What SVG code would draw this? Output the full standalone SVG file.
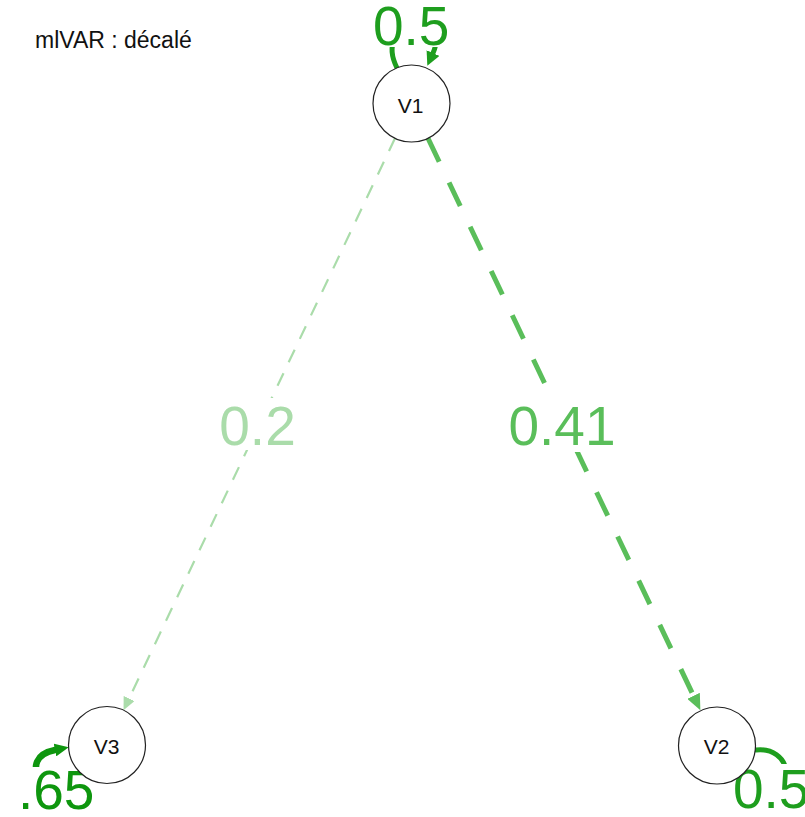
<svg xmlns="http://www.w3.org/2000/svg" width="805" height="817" viewBox="0 0 805 817">
<style>
  text { font-family: "Liberation Sans", Arial, sans-serif; }
  .node circle { fill: #ffffff; stroke: #222222; stroke-width: 1.2; }
  .node text { font-size: 21px; fill: #111111; text-anchor: middle; }
  .lbl { font-size: 55px; }
  .bg { fill: #ffffff; }
  .e-mid { stroke: #5abe5a; stroke-width: 5; fill: none; stroke-dasharray: 26 23; }
  .e-light { stroke: #aadcaa; stroke-width: 2.2; fill: none; stroke-dasharray: 14 12; }
  .loop { stroke: #1e9e1e; stroke-width: 5; fill: none; stroke-linecap: round; }
  .loop2 { stroke: #0e960e; stroke-width: 6.5; fill: none; stroke-linecap: round; }
  .title { font-size: 23px; fill: #111111; }
</style>
<defs>
  <marker id="arMid" markerUnits="userSpaceOnUse" viewBox="0 0 16 14" markerWidth="16" markerHeight="14" refX="0" refY="7" orient="auto">
    <path d="M0,0 L16,7 L0,14 z" fill="#5abe5a"/>
  </marker>
  <marker id="arLight" markerUnits="userSpaceOnUse" viewBox="0 0 13 12" markerWidth="13" markerHeight="12" refX="0" refY="6" orient="auto">
    <path d="M0,0 L13,6 L0,12 z" fill="#aadcaa"/>
  </marker>
  <marker id="arLoop" markerUnits="userSpaceOnUse" viewBox="0 0 14 14" markerWidth="14" markerHeight="14" refX="0" refY="7" orient="auto">
    <path d="M0,0 L14,7 L0,14 z" fill="#1e9e1e"/>
  </marker>
  <marker id="arLoop2" markerUnits="userSpaceOnUse" viewBox="0 0 14 13" markerWidth="14" markerHeight="13" refX="0" refY="6.5" orient="auto">
    <path d="M0,0 L14,6.5 L0,13 z" fill="#0e960e"/>
  </marker>
</defs>
<rect width="805" height="817" fill="#ffffff"/>
<text class="title" x="35" y="47.5">mlVAR : décalé</text>

<g id="connectors">
  <path id="e-V1-V2" class="e-mid" d="M428,138.3 L693.5,695.8" marker-end="url(#arMid)"/>
  <path id="e-V1-V3" class="e-light" d="M395,138.3 L129.1,698.5" marker-end="url(#arLight)"/>
  <path id="loop-V1" class="loop" d="M397,68 C372,18 452,10 433,53" marker-end="url(#arLoop)"/>
  <path id="loop-V3" class="loop2" d="M85,776 C45,805 15,758 55,750" marker-end="url(#arLoop2)"/>
  <path id="loop-V2" class="loop" d="M756,750 C790,746 800,792 758,784" marker-end="url(#arLoop)"/>

  <g id="labels">
    <rect class="bg" x="214" y="398" width="88" height="52"/>
    <text class="lbl" x="257.5" y="445" text-anchor="middle" fill="#aadcaa">0.2</text>
    <rect class="bg" x="507" y="390" width="112" height="62"/>
    <text class="lbl" x="562" y="445" text-anchor="middle" fill="#5abe5a">0.41</text>
    <rect class="bg" x="370" y="-5" width="84" height="52"/>
    <text class="lbl" x="373" y="45" fill="#1e9e1e">0.5</text>
    <rect class="bg" x="14" y="767" width="84" height="50"/>
    <text class="lbl" x="18" y="809" fill="#0e960e">.65</text>
    <rect class="bg" x="729" y="764" width="76" height="53"/>
    <text class="lbl" x="733" y="808" fill="#1e9e1e">0.5</text>
  </g>
</g>

<g id="node-V1" class="node">
  <circle cx="411.5" cy="103.5" r="38.5"/>
  <text x="410.5" y="112.5">V1</text>
</g>
<g id="node-V2" class="node">
  <circle cx="717" cy="745.5" r="38.5"/>
  <text x="716.5" y="754">V2</text>
</g>
<g id="node-V3" class="node">
  <circle cx="107" cy="745" r="38.5"/>
  <text x="106.5" y="753.5">V3</text>
</g>
</svg>
